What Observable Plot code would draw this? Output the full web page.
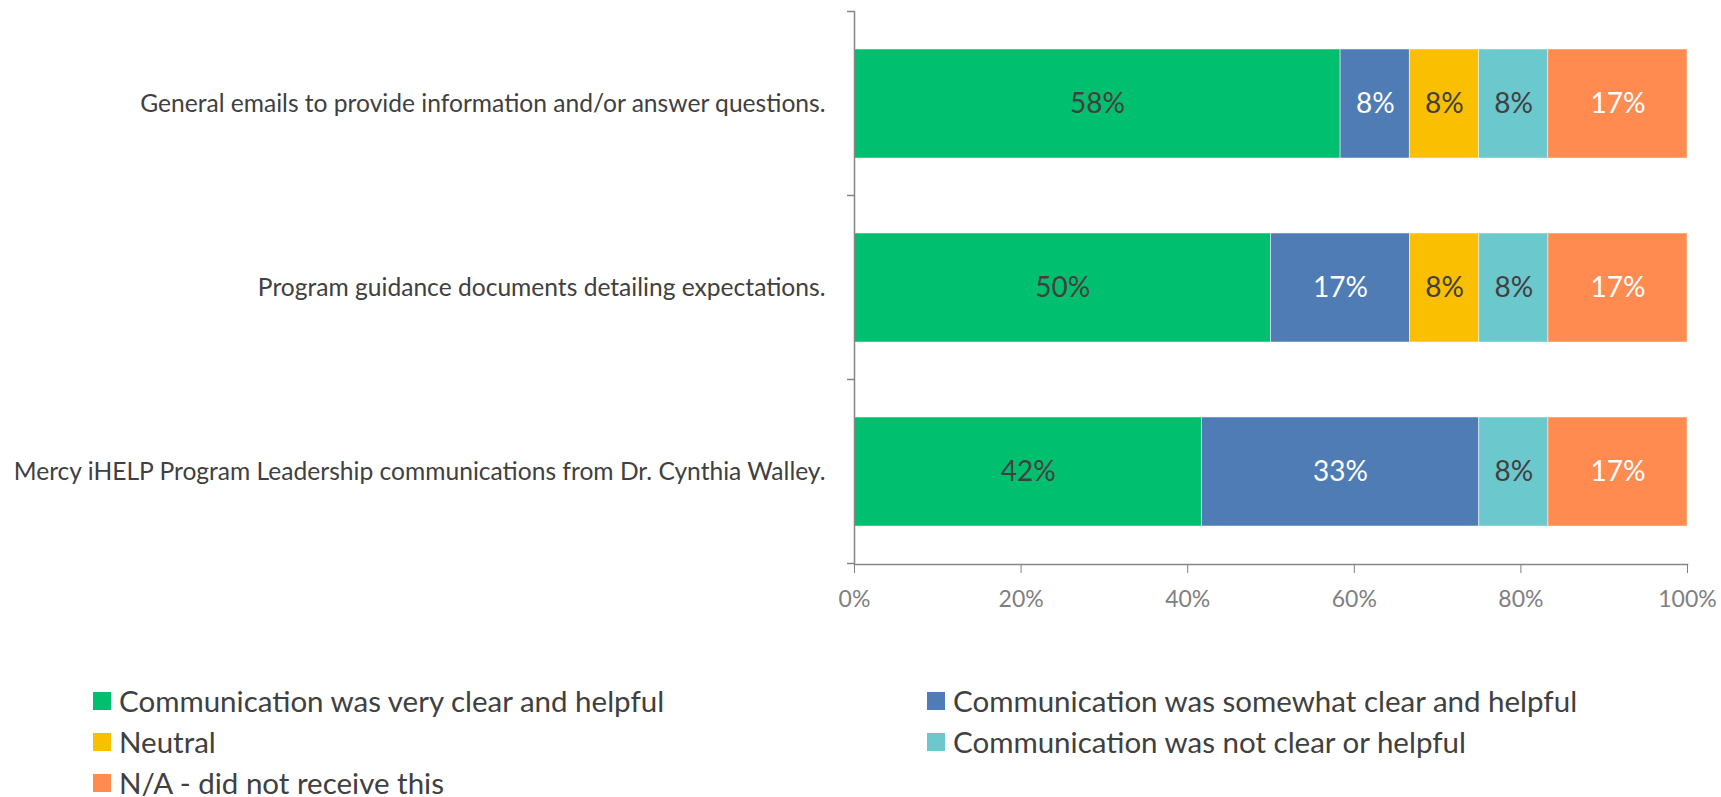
<!DOCTYPE html>
<html>
<head>
<meta charset="utf-8">
<script src="https://cdn.jsdelivr.net/npm/d3@7"></script>
<script src="https://cdn.jsdelivr.net/npm/@observablehq/plot@0.6"></script>
<style>
  html, body { margin: 0; padding: 0; background: #fff; overflow: hidden; }
  body { width: 1721px; height: 797px; font-family: Lato, "Open Sans", sans-serif; }
  #legend { position: relative; height: 157px; }
  .item { position: absolute; display: flex; align-items: center; height: 28px; line-height: 28px; font-size: 29.5px; color: #404040; white-space: nowrap; }
  .sw { width: 18px; height: 18px; margin-right: 8px; flex: none; }
</style>
</head>
<body>
<div id="chart"></div>
<div id="legend"></div>
<script>
const items = [
  "General emails to provide information and/or answer questions.",
  "Program guidance documents detailing expectations.",
  "Mercy iHELP Program Leadership communications from Dr. Cynthia Walley."
];
const series = [
  "Communication was very clear and helpful",
  "Communication was somewhat clear and helpful",
  "Neutral",
  "Communication was not clear or helpful",
  "N/A - did not receive this"
];
const colors = ["#00BF6F", "#4F7CB4", "#F9BF00", "#6BC8CC", "#FF8B50"];
const labelColors = ["#404040", "#ffffff", "#404040", "#404040", "#ffffff"];
// percent values per series, in item order
const veryClear = [58.3, 50.0, 41.7];
const somewhatClear = [8.3, 16.7, 33.3];
const neutral = [8.3, 8.3, 0];
const notClear = [8.3, 8.3, 8.3];
const notReceived = [16.7, 16.7, 16.7];
const xTicks = [0, 0.2, 0.4, 0.6, 0.8, 1];

const seriesValues = [veryClear, somewhatClear, neutral, notClear, notReceived];
const table = [];
items.forEach((item, i) => {
  series.forEach((s, j) => {
    table.push({item, series: s, value: seriesValues[j][i], labelColor: labelColors[j]});
  });
});

const W = 1721, H = 640;
const plot = Plot.plot({
  width: W,
  height: H,
  marginLeft: 854,
  marginRight: 34,
  marginTop: 11,
  marginBottom: H - 564,
  style: {fontFamily: "Lato, 'Open Sans', sans-serif", background: "white", overflow: "visible"},
  x: {domain: [0, 1], ticks: xTicks},
  y: {domain: items, paddingInner: 0.41, paddingOuter: 0.205},
  color: {domain: series, range: colors},
  marks: [
    Plot.barX(table, Plot.stackX({
      offset: "normalize", x: "value", y: "item", fill: "series",
      stroke: "white", strokeWidth: 0.8, strokeOpacity: 0.6
    })),
    Plot.text(table, Plot.stackX({
      offset: "normalize", x: "value", y: "item", z: "series",
      text: d => d.value > 0 ? Math.round(d.value) + "%" : "",
      fill: {value: "labelColor", scale: null},
      fontSize: 28
    })),
    Plot.ruleX([0], {stroke: "#868686", strokeWidth: 1.5}),
    Plot.frame({anchor: "bottom", stroke: "#868686", strokeWidth: 1.5}),
    Plot.axisX({
      ticks: xTicks, tickFormat: d3.format(".0%"), tickSize: 9, tickPadding: 17,
      fontSize: 23, color: "#808080", label: null
    }),
    Plot.axisY({
      tickSize: 0, tickPadding: 29, fontSize: 24.6, color: "#404040", label: null
    })
  ]
});

// boundary ticks on the category axis, computed from the library's band scale
const ys = plot.scale("y");
const xs = plot.scale("x");
const x0 = xs.apply(0);
const gap = (ys.step - ys.bandwidth) / 2;
const bounds = ys.domain.map(d => ys.apply(d) - gap);
bounds.push(ys.apply(ys.domain[ys.domain.length - 1]) + ys.bandwidth + gap);
const g = d3.select(plot).append("g").attr("stroke", "#868686").attr("stroke-width", 1.5);
bounds.forEach(b => g.append("line").attr("x1", x0 - 7).attr("x2", x0).attr("y1", b).attr("y2", b));

document.getElementById("chart").appendChild(plot);

// legend
const legend = document.getElementById("legend");
const positions = [
  [93, 46.5], [927, 46.5],
  [93, 87.5], [927, 87.5],
  [93, 128.5]
];
series.forEach((s, i) => {
  const el = document.createElement("div");
  el.className = "item";
  el.style.left = positions[i][0] + "px";
  el.style.top = positions[i][1] + "px";
  el.innerHTML = `<span class="sw" style="background:${colors[i]}"></span><span>${s}</span>`;
  legend.appendChild(el);
});
</script>
</body>
</html>
